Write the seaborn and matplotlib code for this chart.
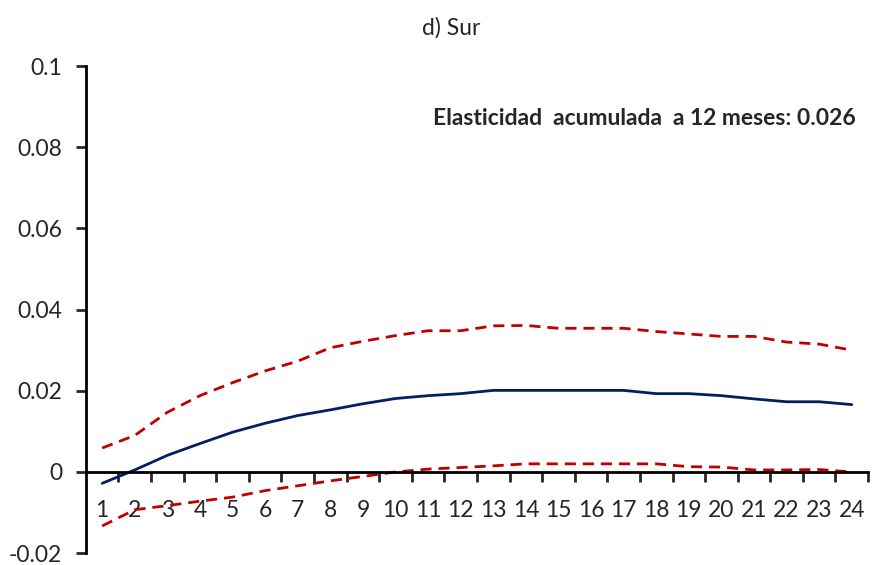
import numpy as np
import pandas as pd
import matplotlib
matplotlib.use("Agg")
import matplotlib.pyplot as plt
import seaborn as sns
from matplotlib.ticker import FixedLocator

# horizonte en meses
meses = list(range(1, 25))

# respuesta acumulada (linea central) y bandas de confianza
respuesta = [-0.0028, 0.0005, 0.0041, 0.0070, 0.0098, 0.0120, 0.0139, 0.0153,
             0.0168, 0.0181, 0.0188, 0.0193, 0.0201, 0.0201, 0.0201, 0.0201,
             0.0201, 0.0193, 0.0193, 0.0188, 0.0180, 0.0173, 0.0173, 0.0166]
banda_sup = [0.0059, 0.0090, 0.0147, 0.0188, 0.0220, 0.0249, 0.0273, 0.0306,
             0.0322, 0.0336, 0.0348, 0.0348, 0.0360, 0.0361, 0.0354, 0.0354,
             0.0354, 0.0346, 0.0340, 0.0334, 0.0334, 0.0320, 0.0315, 0.0300]
banda_inf = [-0.0133, -0.0093, -0.0083, -0.0072, -0.0062, -0.0046, -0.0034, -0.0022,
             -0.0011, 0.0000, 0.0007, 0.0011, 0.0015, 0.0020, 0.0020, 0.0020,
             0.0020, 0.0020, 0.0013, 0.0012, 0.0005, 0.0005, 0.0006, 0.0000]

y_ticks = [-0.02, 0, 0.02, 0.04, 0.06, 0.08, 0.1]
y_labels = ["-0.02", "0", "0.02", "0.04", "0.06", "0.08", "0.1"]

titulo = "d) Sur"
nota = "Elasticidad  acumulada  a 12 meses: 0.026"

df = pd.DataFrame({"mes": meses, "resp": respuesta,
                   "sup": banda_sup, "inf": banda_inf})

sns.set_style("white")
plt.rcParams["font.family"] = ["Lato", "DejaVu Sans"]

fig = plt.figure(figsize=(8.72, 5.65), dpi=100)
ax = fig.add_axes([0.0985, 0.021, 0.897, 0.862])

sns.lineplot(data=df, x="mes", y="sup", ax=ax, color="#C00000",
             linestyle=(0, (4, 2.5)), linewidth=2)
sns.lineplot(data=df, x="mes", y="inf", ax=ax, color="#C00000",
             linestyle=(0, (4, 2.5)), linewidth=2)
sns.lineplot(data=df, x="mes", y="resp", ax=ax, color="#002060", linewidth=2)

ax.set_xlim(0.5, 24.5)
ax.set_ylim(-0.02, 0.1)

for s in ["top", "right"]:
    ax.spines[s].set_visible(False)
ax.spines["bottom"].set_position(("data", 0))
for s in ["left", "bottom"]:
    ax.spines[s].set_color("black")
    ax.spines[s].set_linewidth(2)

ax.set_yticks(y_ticks)
ax.set_yticklabels(y_labels)
ax.tick_params(axis="y", direction="out", length=7, width=2, labelsize=16.5,
               pad=10, left=True)

ax.set_xticks(meses)
ax.set_xticklabels([str(m) for m in meses])
ax.xaxis.set_minor_locator(FixedLocator([m + 0.5 for m in meses]))
ax.tick_params(axis="x", which="major", length=0, labelsize=16.5, pad=20)
ax.tick_params(axis="x", which="minor", direction="out", length=7, width=2,
               bottom=True)

ax.set_xlabel("")
ax.set_ylabel("")
ax.grid(False)

fig.text(0.517, 0.95, titulo, ha="center", va="center", fontsize=16.5)
fig.text(0.981, 0.79, nota, ha="right", va="center", fontsize=16.5,
         fontweight="bold")

fig.savefig("out.png", dpi=100)
